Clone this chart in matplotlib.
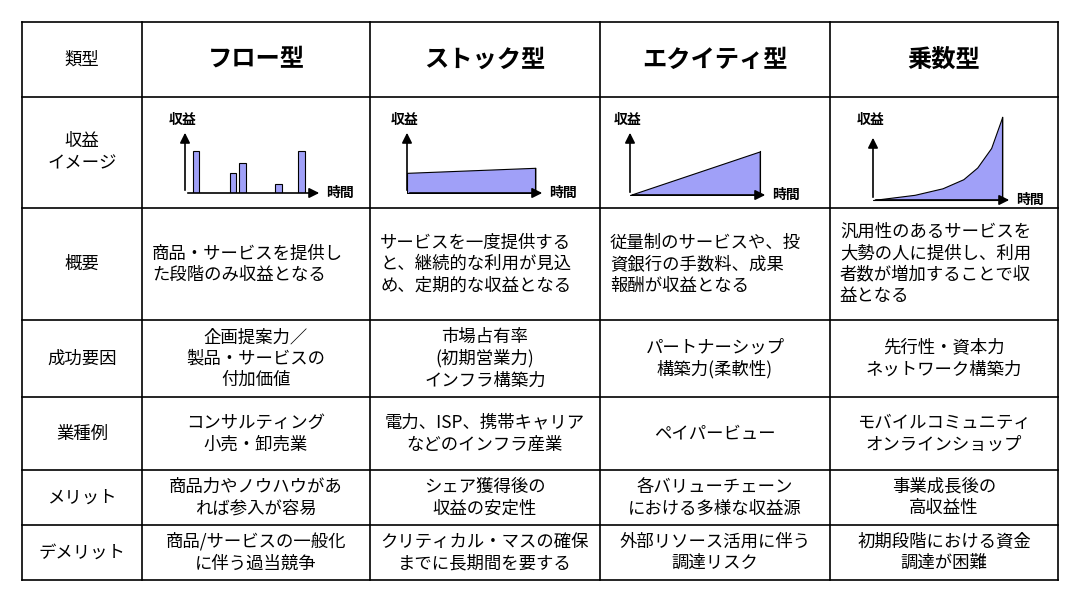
import matplotlib.pyplot as plt

plt.rcParams['font.family'] = 'Noto Sans CJK JP'

# table layout (pixels)
col_x = [22, 142, 370, 600, 830, 1058]
row_y = [22, 97, 208, 320, 397, 470, 525, 580]

headers = ['類型', 'フロー型', 'ストック型', 'エクイティ型', '乗数型']
row_labels = ['収益\nイメージ', '概要', '成功要因', '業種例', 'メリット', 'デメリット']
overview = ['商品・サービスを提供し\nた段階のみ収益となる',
            'サービスを一度提供する\nと、継続的な利用が見込\nめ、定期的な収益となる',
            '従量制のサービスや、投\n資銀行の手数料、成果\n報酬が収益となる',
            '汎用性のあるサービスを\n大勢の人に提供し、利用\n者数が増加することで収\n益となる']
factors = ['企画提案力／\n製品・サービスの\n付加価値', '市場占有率\n(初期営業力)\nインフラ構築力',
           'パートナーシップ\n構築力(柔軟性)', '先行性・資本力\nネットワーク構築力']
examples = ['コンサルティング\n小売・卸売業', '電力、ISP、携帯キャリア\nなどのインフラ産業',
            'ペイパービュー', 'モバイルコミュニティ\nオンラインショップ']
merits = ['商品力やノウハウがあ\nれば参入が容易', 'シェア獲得後の\n収益の安定性',
          '各バリューチェーン\nにおける多様な収益源', '事業成長後の\n高収益性']
demerits = ['商品/サービスの一般化\nに伴う過当競争', 'クリティカル・マスの確保\nまでに長期間を要する',
            '外部リソース活用に伴う\n調達リスク', '初期段階における資金\n調達が困難']

# mini chart data
flow_x = [0.8, 3.5, 4.2, 6.8, 8.5]
flow_y = [6.6, 3.1, 4.8, 1.4, 6.6]
stock_x = [0, 9.3]
stock_y = [3.2, 4.0]
equity_x = [0, 9.4]
equity_y = [0, 6.7]
mult_x = [0, 3, 5, 6.5, 7.5, 8.5, 9.3]
mult_y = [0, 0.8, 1.8, 3.2, 5.0, 8.0, 12.8]

W, H = 1080, 591
fig = plt.figure(figsize=(W / 100, H / 100), dpi=100)
ax = fig.add_axes([0, 0, 1, 1])
ax.set_xlim(0, W)
ax.set_ylim(H, 0)
ax.axis('off')

for x in col_x:
    ax.plot([x, x], [row_y[0], row_y[-1]], color='black', lw=1.2)
for y in row_y:
    ax.plot([col_x[0], col_x[-1]], [y, y], color='black', lw=1.2)

def cx(i):
    return (col_x[i] + col_x[i + 1]) / 2

def cy(j):
    return (row_y[j] + row_y[j + 1]) / 2

fs = 12.5
for i, h in enumerate(headers):
    if i == 0:
        ax.text(cx(i), cy(0), h, ha='center', va='center', fontsize=fs)
    else:
        ax.text(cx(i), cy(0), h, ha='center', va='center', fontsize=17.5, fontweight='bold')
for j, lab in enumerate(row_labels):
    ax.text(cx(0), cy(j + 1), lab, ha='center', va='center', fontsize=fs, linespacing=1.3)

for i in range(4):
    ax.text(col_x[i + 1] + 10, cy(2), overview[i], ha='left', va='center', fontsize=fs, linespacing=1.25)
    for j, rows in zip([3, 4, 5, 6], [factors, examples, merits, demerits]):
        ax.text(cx(i + 1), cy(j), rows[i], ha='center', va='center', fontsize=fs, linespacing=1.25)

fill = '#a0a0f8'

def mini(x0, y0, x1, y1, ymax, label_y=1.04):
    a = fig.add_axes([x0 / W, 1 - y0 / H, (x1 - x0) / W, (y0 - y1) / H])
    a.set_xlim(0, 10)
    a.set_ylim(0, ymax)
    a.axis('off')
    kw = dict(arrowstyle='-|>,head_length=0.6,head_width=0.3', color='black', lw=1.2)
    a.annotate('', xy=(1, 0), xytext=(0, 0), xycoords='axes fraction', arrowprops=kw, annotation_clip=False)
    a.annotate('', xy=(0, 1), xytext=(0, 0), xycoords='axes fraction', arrowprops=kw, annotation_clip=False)
    a.text(-0.02, label_y, '収益', transform=a.transAxes, ha='center', va='bottom', fontsize=10, fontweight='bold')
    a.text(1.03, 0, '時間', transform=a.transAxes, ha='left', va='center', fontsize=10, fontweight='bold')
    return a

a1 = mini(185, 193, 322, 130, 10)
a1.bar(flow_x, flow_y, width=0.5, color=fill, edgecolor='black', lw=0.8)
a2 = mini(407, 193, 545, 130, 10)
a2.fill_between(stock_x, 0, stock_y, color=fill, edgecolor='black', lw=0.8)
a2.plot([stock_x[-1]] * 2, [0, stock_y[-1]], color='black', lw=0.8)
a3 = mini(630, 195, 768, 130, 10)
a3.fill_between(equity_x, 0, equity_y, color=fill, edgecolor='black', lw=0.8)
a3.plot([equity_x[-1]] * 2, [0, equity_y[-1]], color='black', lw=0.8)
a4 = mini(873, 200, 1012, 135, 10, label_y=1.12)
a4.fill_between(mult_x, 0, mult_y, color=fill, edgecolor='black', lw=0.8, clip_on=False)
a4.plot([mult_x[-1]] * 2, [0, mult_y[-1]], color='black', lw=0.8, clip_on=False)

fig.savefig('out.png', dpi=100)
